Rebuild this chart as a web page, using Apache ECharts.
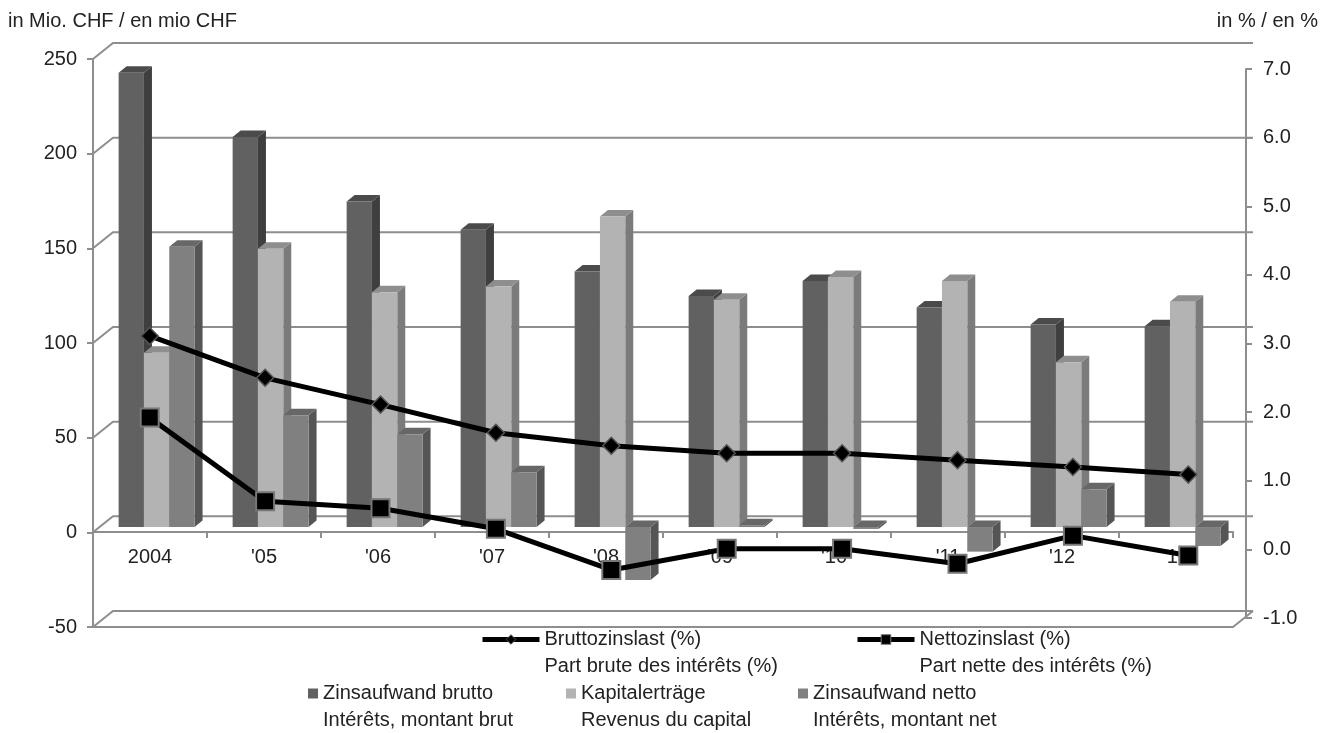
<!DOCTYPE html>
<html><head><meta charset="utf-8">
<script src="https://cdn.jsdelivr.net/npm/echarts@6/dist/echarts.min.js"></script>
<style>html,body{margin:0;padding:0;background:#fff}#c{width:1323px;height:733px}</style>
</head><body><div id="c"></div>
<script>
const categories = ['2004', "'05", "'06", "'07", "'08", "'09", "'10", "'11", "'12", "'13"];
const zinsBrutto = [240, 206, 172, 157, 135, 122, 130, 116, 107, 106];
const kapitalErtraege = [92, 147, 124, 127, 164, 120, 132, 130, 87, 119];
const zinsNetto = [148, 59, 49, 29, -28, 1, -1, -13, 20, -10];
const bruttoPct = [3.11, 2.50, 2.11, 1.70, 1.51, 1.40, 1.40, 1.30, 1.20, 1.09];
const nettoPct = [1.92, 0.70, 0.60, 0.30, -0.30, 0.01, 0.01, -0.21, 0.20, -0.09];
const leftTicks = [-50, 0, 50, 100, 150, 200, 250];

const FONT = 'Liberation Sans';
const TXT = '#222';
const AX = '#8e8e8e';

const nB = 'Zinsaufwand brutto\nIntérêts, montant brut';
const nK = 'Kapitalerträge\nRevenus du capital';
const nN = 'Zinsaufwand netto\nIntérêts, montant net';
const lB = 'Bruttozinslast (%)\nPart brute des intérêts (%)';
const lN = 'Nettozinslast (%)\nPart nette des intérêts (%)';

function barRenderer(sIdx, front, side, topC) {
  return function (params, api) {
    const i = api.value(0), v = api.value(1);
    const c = api.coord([i, 0]);
    const band = api.size([1, 0])[0];
    const w = band * 0.222;
    const dx = 6.6, dy = -5.3, ddx = 8, ddy = -6.5;
    const x0 = c[0] - 1.5 * w + sIdx * w + dx;
    const yz = c[1] + dy;
    const yv = api.coord([i, v])[1] + dy;
    const top = Math.min(yz, yv), bot = Math.max(yz, yv);
    const x1 = x0 + w;
    return {
      type: 'group',
      children: [
        { type: 'polygon', shape: { points: [[x1, top], [x1 + ddx, top + ddy], [x1 + ddx, bot + ddy], [x1, bot]] }, style: { fill: side } },
        { type: 'polygon', shape: { points: [[x0, top], [x0 + ddx, top + ddy], [x1 + ddx, top + ddy], [x1, top]] }, style: { fill: topC } },
        { type: 'rect', shape: { x: x0, y: top, width: w, height: bot - top }, style: { fill: front } }
      ]
    };
  };
}

function wallRenderer(params, api) {
  const v = api.value(0);
  const p0 = api.coord([0, v]);
  const p1 = api.coord([1, v]);
  const ls = { stroke: AX, lineWidth: 2, fill: null };
  const children = [
    { type: 'polyline', shape: { points: [[p0[0] - 20, p0[1] + 16], p0, p1] }, style: ls }
  ];
  if (v === leftTicks[0]) {
    children.push({ type: 'polyline', shape: { points: [[p0[0] - 20, p0[1] + 16], [p1[0] - 20, p1[1] + 16], p1] }, style: ls });
  }
  return { type: 'group', children };
}

const chart = echarts.init(document.getElementById('c'), null, { renderer: 'canvas' });
const legendText = { fontFamily: FONT, fontSize: 20, color: TXT, lineHeight: 27 };
const fmt = name => '\n' + name;

chart.setOption({
  animation: false,
  backgroundColor: '#fff',
  textStyle: { fontFamily: FONT },
  title: [
    { text: 'in Mio. CHF / en mio CHF', left: 8, top: 11, padding: 0, textStyle: { fontFamily: FONT, fontSize: 20, fontWeight: 'normal', color: TXT } },
    { text: 'in % / en %', right: 5, top: 11, padding: 0, textStyle: { fontFamily: FONT, fontSize: 20, fontWeight: 'normal', color: TXT } }
  ],
  legend: [
    { data: [lB], left: 480, top: 599, padding: 0, itemWidth: 57, itemHeight: 12, formatter: fmt, textStyle: legendText, selectedMode: false,
      lineStyle: { width: 5, color: '#000' }, itemStyle: { color: '#000', borderColor: '#555', borderWidth: 1 } },
    { data: [lN], left: 855, top: 599, padding: 0, itemWidth: 57, itemHeight: 12, formatter: fmt, textStyle: legendText, selectedMode: false,
      lineStyle: { width: 5, color: '#000' }, itemStyle: { color: '#000', borderColor: '#777', borderWidth: 1 } },
    { data: [{ name: nB, icon: 'rect' }], left: 308, top: 653, padding: 0, itemWidth: 10, itemHeight: 10, formatter: fmt, textStyle: legendText, selectedMode: false },
    { data: [{ name: nK, icon: 'rect' }], left: 566, top: 653, padding: 0, itemWidth: 10, itemHeight: 10, formatter: fmt, textStyle: legendText, selectedMode: false },
    { data: [{ name: nN, icon: 'rect' }], left: 798, top: 653, padding: 0, itemWidth: 10, itemHeight: 10, formatter: fmt, textStyle: legendText, selectedMode: false }
  ],
  grid: [
    { left: 93, right: 90, top: 59, bottom: 106 },
    { left: 113, right: 70, top: 43, bottom: 122 },
    { left: 92, right: 77, top: 69, bottom: 115 },
    { left: 93, right: 90, top: 59, bottom: 201 }
  ],
  xAxis: [
    { type: 'category', gridIndex: 0, data: categories, show: false },
    { type: 'value', gridIndex: 1, min: 0, max: 1, show: false },
    { type: 'category', gridIndex: 2, data: categories, show: false },
    {
      type: 'category', gridIndex: 3, data: categories, position: 'bottom',
      axisLine: { show: true, onZero: false, lineStyle: { color: AX, width: 2 } },
      axisTick: { show: true, length: 6, lineStyle: { color: AX, width: 2 } },
      axisLabel: { margin: 15, fontSize: 20, color: TXT, fontFamily: FONT },
      splitLine: { show: false }
    }
  ],
  yAxis: [
    {
      type: 'value', gridIndex: 0, min: -50, max: 250, interval: 50, position: 'left',
      axisLine: { show: true, lineStyle: { color: AX, width: 2 } },
      axisTick: { show: true, length: 6, lineStyle: { color: AX, width: 2 } },
      axisLabel: { margin: 16, fontSize: 20, color: TXT, fontFamily: FONT },
      splitLine: { show: false }
    },
    { type: 'value', gridIndex: 1, min: -50, max: 250, interval: 50, show: false },
    {
      type: 'value', gridIndex: 2, min: -1, max: 7, interval: 1, position: 'right',
      axisLine: { show: true, lineStyle: { color: AX, width: 2 } },
      axisTick: { show: true, length: 6, lineStyle: { color: AX, width: 2 } },
      axisLabel: { margin: 17, fontSize: 20, color: TXT, fontFamily: FONT, formatter: v => v.toFixed(1) },
      splitLine: { show: false }
    },
    { type: 'value', gridIndex: 3, show: false }
  ],
  series: [
    { type: 'custom', name: 'wall', xAxisIndex: 1, yAxisIndex: 1, z: 0, silent: true,
      data: leftTicks.map(v => [v]), renderItem: wallRenderer, encode: { y: 0 } },
    { type: 'custom', name: nB, xAxisIndex: 0, yAxisIndex: 0, z: 2, itemStyle: { color: '#616161' },
      data: zinsBrutto.map((v, i) => [i, v]), encode: { x: 0, y: 1 },
      renderItem: barRenderer(0, '#616161', '#3f3f3f', '#4b4b4b') },
    { type: 'custom', name: nK, xAxisIndex: 0, yAxisIndex: 0, z: 2, itemStyle: { color: '#b3b3b3' },
      data: kapitalErtraege.map((v, i) => [i, v]), encode: { x: 0, y: 1 },
      renderItem: barRenderer(1, '#b3b3b3', '#7b7b7b', '#8e8e8e') },
    { type: 'custom', name: nN, xAxisIndex: 0, yAxisIndex: 0, z: 2, itemStyle: { color: '#808080' },
      data: zinsNetto.map((v, i) => [i, v]), encode: { x: 0, y: 1 },
      renderItem: barRenderer(2, '#808080', '#555555', '#676767') },
    { type: 'line', name: lB, xAxisIndex: 2, yAxisIndex: 2, z: 5, data: bruttoPct,
      symbol: 'diamond', symbolSize: 17, lineStyle: { color: '#000', width: 5 },
      itemStyle: { color: '#000', borderColor: '#555', borderWidth: 1.5 } },
    { type: 'line', name: lN, xAxisIndex: 2, yAxisIndex: 2, z: 5, data: nettoPct,
      symbol: 'rect', symbolSize: 18, lineStyle: { color: '#000', width: 5 },
      itemStyle: { color: '#000', borderColor: '#777', borderWidth: 2 } }
  ]
});
</script>
</body></html>
